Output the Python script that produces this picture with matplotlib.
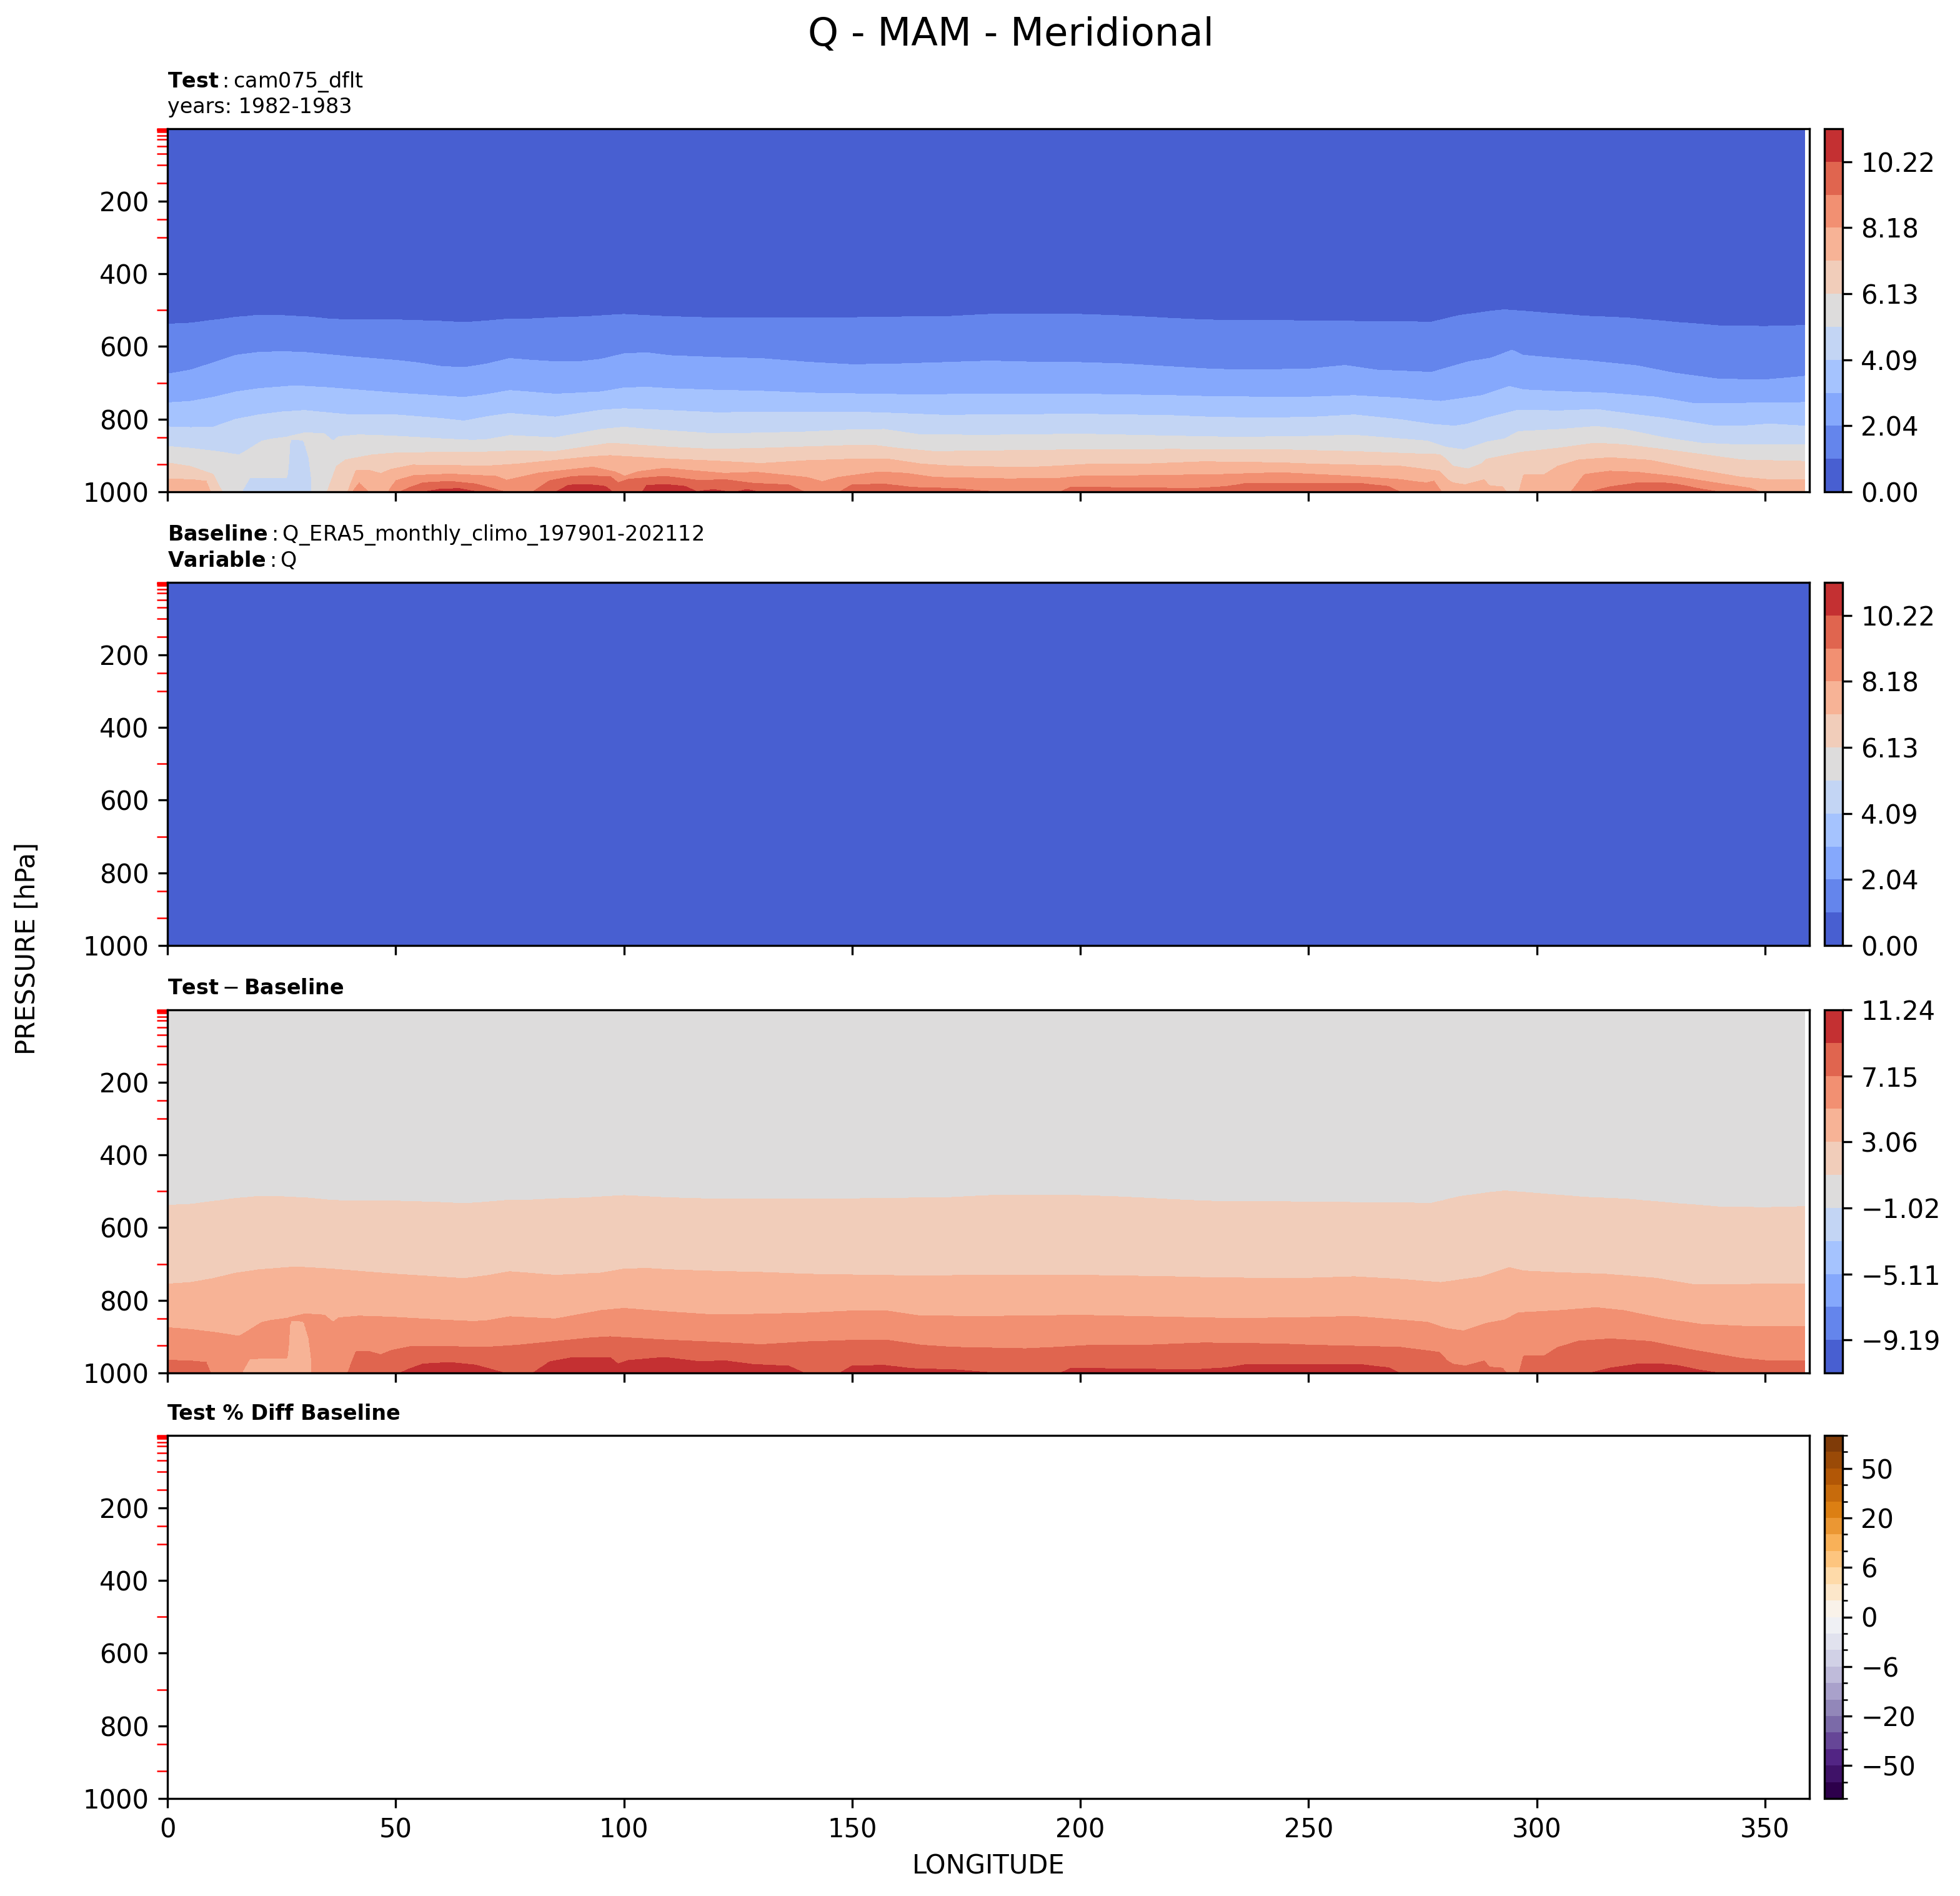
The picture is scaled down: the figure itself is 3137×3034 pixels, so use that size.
# Q - MAM - Meridional: test run vs ERA5 baseline, pressure/longitude sections
import numpy as np
import matplotlib
matplotlib.use("Agg")
import matplotlib.pyplot as plt
from matplotlib.colors import BoundaryNorm

nan = np.nan

# data range
test_max = 11.243
diff_max = 11.237
pct_levels = [-100, -75, -50, -40, -30, -20, -15, -10, -6, -4, -2, 0,
              2, 4, 6, 10, 15, 20, 30, 40, 50, 75, 100]
pct_ticks = [-50, -20, -6, 0, 6, 20, 50]

# pressure levels marked in red on the y axis
plev = [1, 2, 3, 5, 7, 10, 20, 30, 50, 70, 100, 150, 200, 250, 300, 400,
        500, 600, 700, 850, 925, 1000]

# test Q (g/kg): pressure (hPa) where each contour level is crossed, by longitude
# nan = level only reached below 1000 hPa
q1_lon = [0, 5, 10, 15, 20, 25, 30, 35, 40, 50, 60, 65, 70, 75, 80, 85, 90, 100, 110, 120,
          130, 140, 150, 160, 170, 180, 190, 200, 210, 220, 230, 240, 250, 260, 270, 277,
          283, 290, 293, 300, 310, 320, 330, 340, 350, 358.75]
q1_p = [539, 536, 528, 520, 514, 515, 518, 524, 527, 527, 531, 534, 530, 524, 524, 521, 519, 512, 518, 522,
        522, 522, 521, 519, 518, 512, 511, 512, 516, 523, 528, 528, 530, 531, 532, 533,
        515, 503, 499, 506, 516, 522, 533, 543, 545, 542]

q2_lon = [0, 5, 10, 15, 20, 25, 30, 35, 40, 50, 55, 60, 65, 70, 75, 80, 85, 90, 95, 100, 105, 110,
          120, 130, 140, 150, 160, 170, 180, 190, 200, 210, 220, 230, 240, 250, 258, 265, 277,
          285, 290, 294.6, 297, 305, 311, 322, 330, 340, 350, 358.75]
q2_p = [676, 665, 645, 624, 616, 614, 616, 622, 628, 638, 645, 655, 658, 648, 633, 638, 642, 642, 635, 620, 617, 625,
        630, 633, 643, 650, 648, 644, 640, 643, 644, 648, 656, 663, 664, 662, 652, 665, 671,
        642, 632, 610, 624, 633, 639, 653, 673, 690, 692, 682]

q3_lon = [0, 5, 10, 15, 20, 28, 35, 40, 50, 60, 65, 70, 75, 85, 95, 100, 105, 110, 120, 130, 140,
          150, 160, 170, 180, 200, 220, 230, 240, 250, 260, 270, 279, 288, 294, 297, 305, 315,
          326, 334, 345, 358.75]
q3_p = [755, 751, 740, 725, 716, 708, 713, 718, 728, 736, 740, 732, 721, 731, 725, 714, 712, 716, 720, 723, 728,
        730, 732, 732, 731, 731, 735, 738, 739, 739, 735, 742, 751, 735, 710, 719, 724, 728,
        739, 756, 756, 754]

q4_lon = [0, 5, 10, 15, 20, 25, 30, 35, 40, 50, 60, 65, 70, 75, 85, 95, 100, 110, 120, 130, 140,
          150, 160, 170, 180, 200, 220, 230, 240, 250, 260, 270, 277, 282, 285, 289, 296, 305,
          313, 322, 328, 333, 339, 345, 351, 358.75]
q4_p = [821, 823, 822, 800, 788, 780, 776, 782, 788, 788, 798, 805, 793, 784, 794, 775, 771, 776, 782, 781, 780,
        780, 784, 789, 788, 786, 790, 795, 796, 795, 788, 801, 814, 819, 813, 797, 775, 777,
        773, 788, 797, 807, 819, 819, 813, 819]

q5_lon = [0, 5, 11, 15.7, 17, 20.7, 23, 26.2, 30.3, 34.4, 36.3, 37.5, 42, 49, 60, 67, 70, 75, 85, 95,
          100, 110, 120, 130, 140, 150, 157, 165, 180, 200, 215, 235, 244, 250, 260, 270, 276,
          280, 284, 289, 293, 296, 305, 313, 319, 328, 336, 345, 358.75]
q5_p = [875, 880, 889, 898, 889, 860, 854, 849, 837, 840, 860, 848, 843, 846, 854, 858, 856, 845, 851, 828,
        822, 832, 840, 838, 835, 829, 828, 843, 844, 841, 845, 850, 848, 847, 844, 854, 860,
        877, 884, 863, 854, 834, 828, 820, 828, 851, 866, 871, 871]

q6_lon = [0, 5, 10, 12, 15, 33, 35, 37, 39, 45, 50, 60, 70, 77, 85, 97, 110, 120, 130, 140, 150,
          155, 160, 168, 180, 200, 220, 244, 250, 260, 273, 278.7, 280.1, 281.6, 285, 287.9,
          289, 296.5, 304.6, 312.7, 319, 327.6, 336.3, 344.9, 358.75]
q6_p = [920, 930, 952, 1000, nan, nan, 1000, 930, 912, 898, 893, 891, 890, 887, 889, 866, 877, 883, 880, 876, 872,
        872, 880, 889, 887, 884, 883, 884, 886, 889, 895, 897, 909, 929, 937, 923,
        910, 891, 880, 866, 870, 883, 897, 912, 916]

q7_lon = [0, 5, 8.5, 9.5, 12, 38, 39.5, 41.3, 44, 46.8, 49, 53.7, 70, 77, 93, 97, 109, 120, 130, 140,
          152, 158, 165, 172, 188, 195, 203, 215, 227, 244, 250, 260, 270, 278.7, 280.4, 281.6,
          284.4, 288.5, 289.6, 292.5, 293.7, 296, 297.1, 301.7, 304.6, 309.2, 316.1, 324.8,
          333.4, 344.9, 350.7, 358.75]
q7_p = [964, 966, 970, 1000, nan, nan, 1000, 941, 940, 949, 938, 926, 929, 923, 903, 900, 909, 915, 922, 914,
        909, 910, 923, 929, 933, 929, 923, 923, 917, 920, 923, 926, 929, 943, 966, 975,
        980, 966, 983, 986, 1005, 1005, 952, 952, 929, 912, 906, 913,
        935, 960, 966, 966]

q8_lon = [0, 39, 40.5, 42, 44, 45.5, 47, 48.3, 50, 54, 62, 72, 74.3, 81.4, 93.2, 98, 100.2, 103,
          108.9, 122, 129, 140, 143.5, 147, 156, 162, 168, 184, 195, 200, 215, 231, 244, 250,
          258, 270, 275.8, 277.5, 279.2, 281, 306, 307.5, 310.4, 316, 322, 330.5, 339, 346.7,
          349, 352, 358.75]
q8_p = [nan, nan, 1000, 975, 1000, nan, nan, 1000, 969, 955, 951, 957, 968, 948, 932, 945, 957, 945,
        935, 949, 946, 960, 972, 960, 945, 949, 960, 964, 963, 957, 955, 952, 947, 951,
        956, 966, 975, 970, 1000, nan, nan, 1000, 952, 943, 946, 958, 975, 989,
        1000, nan, nan]

q9_lon = [0, 50, 50.9, 53, 56, 61.9, 67.4, 70, 74, 76, 80, 83.7, 89, 97, 98.7, 101, 108.9, 116.7, 122,
          128, 136, 140, 147, 150, 157, 163, 172, 180, 183, 195, 198, 210, 225, 232, 236, 244,
          250, 262, 267.6, 270, 272, 310, 311.5, 316, 322, 327.6, 330.5, 336, 340.3, 343, 358.75]
q9_p = [nan, nan, 1000, 988, 975, 971, 978, 986, 1000, 1008, 1000, 969, 957, 957, 975, 965, 957, 969, 966,
        976, 980, 1002, 1002, 980, 978, 987, 990, 998, 1005, 1003, 986, 988, 990, 985, 977, 976,
        977, 977, 985, 1000, nan, nan, 1000, 986, 975, 975, 978, 992, 1000, nan, nan]

q10_lon = [0, 54, 56, 60, 64, 68, 70, 83, 85, 88, 92, 96, 97.5, 100, 104, 105, 109, 113.6, 116,
           118, 120, 123, 124.5, 127, 129.5, 131, 358.75]
q10_p = [nan, nan, 1000, 992, 991, 1000, nan, nan, 1000, 981, 979, 985, 1000, 1010, 1000, 982, 979, 985, 1000,
         995, 994, 1000, 1000, 993, 1000, nan, nan]

# drier pocket near the surface east of 15E (pressure of its top)
blob_lon = [16.3, 18, 20, 26.2, 26.5, 26.8, 29.9, 31, 31.5, 31.6]
blob_p = [1000, 962, 961, 961, 930, 855, 858, 905, 960, 1000]

# ERA5 baseline profile, left in kg/kg
base_p = [1, 100, 300, 500, 700, 850, 925, 1000]
base_q = [0.000003, 0.000004, 0.0001, 0.0008, 0.0025, 0.0055, 0.0072, 0.0088]


def build_test(lon, pres, levels):
    bounds = [(q1_lon, q1_p), (q2_lon, q2_p), (q3_lon, q3_p), (q4_lon, q4_p),
              (q5_lon, q5_p), (q6_lon, q6_p), (q7_lon, q7_p), (q8_lon, q8_p),
              (q9_lon, q9_p), (q10_lon, q10_p)]
    P = np.empty((10, lon.size))
    for k, (bl, bp) in enumerate(bounds, start=1):
        bp = np.array(bp, dtype=float)
        bp = np.where(np.isnan(bp), 1000 + 15 * k, bp)
        P[k - 1] = np.interp(lon, bl, bp)

    q = np.empty((pres.size, lon.size))
    for j, lo in enumerate(lon):
        kp = np.concatenate([[0.0], P[:, j], [max(P[-1, j], 1000) + 60]])
        kq = np.concatenate([[0.0], levels[1:11], [levels[-1]]])
        if blob_lon[0] < lo < blob_lon[-1]:
            top = np.interp(lo, blob_lon, blob_p)
            b5 = P[4, j]
            kp = np.concatenate([kp[:6], [(b5 + top) / 2, top, 1010]])
            kq = np.concatenate([kq[:6], [levels[5] + 0.4, levels[5], levels[5] - 0.5]])
        kp = np.maximum.accumulate(kp) + np.arange(kp.size) * 1e-6
        q[:, j] = np.interp(pres, kp, kq)
    return q


def style_axis(ax):
    ax.set_ylim(1000, 1)
    ax.set_yticks([200, 400, 600, 800, 1000])
    ax.set_yticks(plev, minor=True)
    ax.tick_params(axis="y", which="minor", color="red", length=4)
    ax.set_xticks(np.arange(0, 360, 50))
    ax.tick_params(labelsize=10)


def main():
    lon_t = np.arange(0, 358.76, 0.25)
    lon_b = np.arange(0, 360, 0.25)
    pres = np.linspace(1, 1000, 700)

    lev_t = np.linspace(0, test_max, 12)
    lev_d = np.linspace(-diff_max, diff_max, 12)

    test = build_test(lon_t, pres, lev_t)
    base_col = np.interp(pres, base_p, base_q)
    base = np.repeat(base_col[:, None], lon_b.size, axis=1)
    base_t = np.repeat(base_col[:, None], lon_t.size, axis=1)
    diff = test - base_t
    pct = (test - base_t) / base_t * 100.0

    fig = plt.figure(figsize=(3137 / 300, 3034 / 300), dpi=300)
    left, width = 268 / 3137, 2628 / 3137
    cb_left, cb_width = 2920 / 3137, 29 / 3137
    tops = [206, 932, 1616, 2297]
    h = 581
    axes, caxes = [], []
    for t in tops:
        b = 1 - (t + h) / 3034
        axes.append(fig.add_axes([left, b, width, h / 3034]))
        caxes.append(fig.add_axes([cb_left, b, cb_width, h / 3034]))

    cf = axes[0].contourf(lon_t, pres, test, levels=lev_t, cmap="coolwarm")
    cb = fig.colorbar(cf, cax=caxes[0])
    cb.set_ticks(lev_t[::2])
    cb.ax.set_yticklabels([f"{v:.2f}" for v in lev_t[::2]])
    axes[0].set_title("$\\mathbf{Test}:$cam075_dflt\nyears: 1982-1983", loc="left", fontsize=8)

    cf = axes[1].contourf(lon_b, pres, base, levels=lev_t, cmap="coolwarm")
    cb = fig.colorbar(cf, cax=caxes[1])
    cb.set_ticks(lev_t[::2])
    cb.ax.set_yticklabels([f"{v:.2f}" for v in lev_t[::2]])
    axes[1].set_title("$\\mathbf{Baseline}:$Q_ERA5_monthly_climo_197901-202112\n$\\mathbf{Variable}:$Q",
                      loc="left", fontsize=8)

    cf = axes[2].contourf(lon_t, pres, diff, levels=lev_d, cmap="coolwarm")
    cb = fig.colorbar(cf, cax=caxes[2])
    cb.set_ticks(lev_d[1::2])
    cb.ax.set_yticklabels([f"{v:.2f}".replace("-", "\u2212") for v in lev_d[1::2]])
    axes[2].set_title("$\\mathbf{Test} - \\mathbf{Baseline}$", loc="left", fontsize=8)

    norm = BoundaryNorm(pct_levels, 256)
    cf = axes[3].contourf(lon_t, pres, pct, levels=pct_levels, cmap="PuOr_r", norm=norm)
    cb = fig.colorbar(cf, cax=caxes[3])
    cb.set_ticks(pct_ticks)
    cb.set_ticks([v for v in pct_levels if v not in pct_ticks], minor=True)
    axes[3].set_title("Test % Diff Baseline", loc="left", fontsize=8, fontweight="bold")

    for ax in axes:
        ax.set_xlim(0, 359.75)
        style_axis(ax)
    for ax in axes[:3]:
        ax.tick_params(axis="x", labelbottom=False)
    for c in caxes:
        c.tick_params(labelsize=10)

    axes[3].set_xlabel("LONGITUDE", fontsize=10)
    fig.text(0.014, 0.4997, "PRESSURE [hPa]", rotation=90, va="center", ha="center", fontsize=10)
    fig.text(0.5158, 1 - 56 / 3034, "Q - MAM - Meridional", ha="center", va="center", fontsize=15)

    fig.savefig("out.png", dpi=300)


main()
